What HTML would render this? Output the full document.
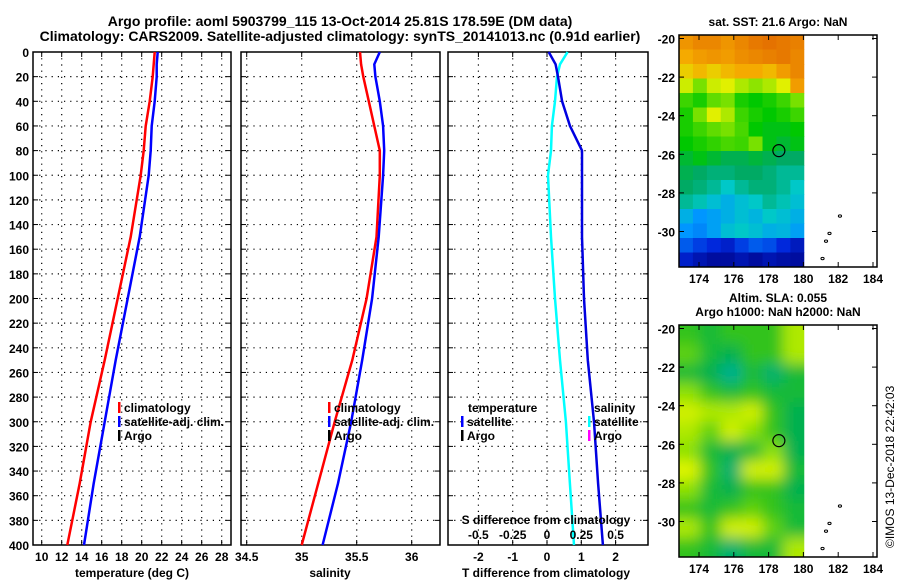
<!DOCTYPE html>
<html><head><meta charset="utf-8">
<style>
html,body{margin:0;padding:0;background:#fff;}
svg{display:block;font-family:"Liberation Sans",sans-serif;font-weight:bold;}
text{font-size:12px;fill:#000;}
</style></head>
<body>
<svg id="c" width="900" height="580" viewBox="0 0 900 580" xmlns="http://www.w3.org/2000/svg">
<text x="340" y="26" text-anchor="middle" style="font-size:14px">Argo profile: aoml 5903799_115 13-Oct-2014 25.81S 178.59E (DM data)</text>
<text x="340" y="41" text-anchor="middle" style="font-size:14px">Climatology: CARS2009. Satellite-adjusted climatology: synTS_20141013.nc (0.91d earlier)</text>
<text x="778" y="26" text-anchor="middle">sat. SST: 21.6 Argo: NaN</text>
<text x="778" y="302" text-anchor="middle">Altim. SLA: 0.055</text>
<text x="778" y="316" text-anchor="middle">Argo h1000: NaN h2000: NaN</text>
<text transform="translate(894,548) rotate(-90)" style="font-weight:normal">©IMOS 13-Dec-2018 22:42:03</text>
<g id="g"></g>
</svg>
<script>
// ---- data ----
const depths = [0,10,20,40,60,80,100,150,200,250,300,350,400];
const tempClim = [21.3,21.2,21.1,20.8,20.4,20.2,19.9,18.9,17.6,16.3,14.9,13.8,12.56];
const tempSat  = [21.6,21.5,21.5,21.3,21.0,20.9,20.7,19.8,18.6,17.4,16.3,15.2,14.23];
const salClim = [35.53,35.54,35.56,35.61,35.66,35.71,35.71,35.68,35.59,35.46,35.3,35.15,35.0];
const salSat  = [35.71,35.66,35.67,35.71,35.74,35.75,35.74,35.70,35.64,35.55,35.45,35.33,35.19];
const tDiff = [0.05,0.25,0.32,0.44,0.67,1.02,1.02,1.02,1.08,1.19,1.37,1.49,1.63];
const sDiff = [0.15,0.095,0.073,0.058,0.036,0.029,0.007,0.029,0.058,0.095,0.138,0.167,0.197];
const depthTicks = [0,20,40,60,80,100,120,140,160,180,200,220,240,260,280,300,320,340,360,380,400];
const tempTicks = [10,12,14,16,18,20,22,24,26,28];
const salTicks = [34.5,35,35.5,36];
const salTickLabels = ['34.5','35','35.5','36'];
const tdTicks = [-2,-1,0,1,2];
const sdTicks = [-0.5,-0.25,0,0.25,0.5];
const sdTickLabels = ['-0.5','-0.25','0','0.25','0.5'];
const lonTicks = [174,176,178,180,182,184];
const latTicks = [-20,-22,-24,-26,-28,-30];
const sstGrid = [
[.93,.95,.95,.93,.95,.97,.98,.97,.96],
[.90,.92,.93,.92,.94,.95,.96,.97,.95],
[.85,.88,.85,.88,.90,.90,.88,.92,.95],
[.78,.70,.78,.80,.75,.72,.75,.80,.92],
[.65,.62,.68,.70,.62,.60,.62,.65,.70],
[.62,.70,.80,.75,.65,.62,.60,.62,.65],
[.62,.65,.68,.70,.66,.60,.58,.58,.60],
[.60,.62,.64,.66,.65,.70,.58,.55,.58],
[.55,.58,.55,.52,.52,.54,.52,.50,.50],
[.52,.50,.48,.48,.50,.50,.48,.45,.45],
[.50,.48,.45,.40,.45,.48,.48,.45,.40],
[.45,.42,.38,.35,.38,.40,.45,.42,.38],
[.35,.30,.32,.35,.38,.36,.40,.38,.35],
[.30,.28,.32,.38,.40,.38,.35,.36,.32],
[.22,.18,.15,.12,.18,.22,.20,.15,.10],
[.12,.08,.05,.05,.08,.05,.08,.06,.05]];
const slaGrid = [
[.6,.55,.6,.6,.6,.75],
[.65,.55,.5,.6,.6,.75],
[.55,.5,.4,.55,.45,.55],
[.7,.6,.55,.6,.55,.55],
[.8,.75,.75,.8,.6,.5],
[.75,.65,.8,.7,.6,.5],
[.7,.55,.5,.55,.7,.5],
[.85,.6,.45,.8,.8,.55],
[.7,.55,.5,.6,.6,.5],
[.6,.55,.6,.65,.6,.55],
[.75,.6,.8,.8,.65,.55],
[.6,.55,.45,.55,.55,.75]];
const islandLon = [182.1,181.5,181.3,181.1];
const islandLat = [-29.2,-30.1,-30.5,-31.4];
const floatLon = 178.59, floatLat = -25.81;

// ---- helpers ----
const NS='http://www.w3.org/2000/svg';
const G=document.getElementById('g');
function mk(tag,at,parent){const e=document.createElementNS(NS,tag);for(const k in at)e.setAttribute(k,at[k]);(parent||G).appendChild(e);return e;}
function txt(x,y,s,anchor,parent){const t=mk('text',{x:x,y:y,'text-anchor':anchor||'middle'},parent);t.textContent=s;return t;}
const Y0=52,Y1=545;
const yD=d=>Y0+(d/400)*(Y1-Y0);
function lin(d0,d1,p0,p1){return v=>p0+(v-d0)/(d1-d0)*(p1-p0);}

function panel(name,x0,x1,xs,ticks,labels,showDepth){
  const g=mk('g',{});
  
  
  ticks.forEach(t=>{mk('line',{x1:xs(t),x2:xs(t),y1:Y0,y2:Y1,stroke:'#000','stroke-width':1.2,'stroke-dasharray':'1.2 5'},g);});
  depthTicks.forEach(d=>{
    if(d>0&&d<400)mk('line',{x1:x0,x2:x1,y1:yD(d),y2:yD(d),stroke:'#000','stroke-width':1.2,'stroke-dasharray':'1.2 5'},g);
    mk('line',{x1:x0,x2:x0+5,y1:yD(d),y2:yD(d),stroke:'#000'},g);
    mk('line',{x1:x1-5,x2:x1,y1:yD(d),y2:yD(d),stroke:'#000'},g);
    if(showDepth){const t=txt(x0-4,yD(d)+5,String(d),'end',g);}
  });
  ticks.forEach((t,i)=>{
    mk('line',{x1:xs(t),x2:xs(t),y1:Y1-5,y2:Y1,stroke:'#000'},g);
    mk('line',{x1:xs(t),x2:xs(t),y1:Y0,y2:Y0+5,stroke:'#000'},g);
    if(labels){const l=txt(xs(t),561,labels[i],'middle',g);}
  });
  mk('rect',{x:x0,y:Y0,width:x1-x0,height:Y1-Y0,fill:'none',stroke:'#000','stroke-width':1.5},g);
  return g;
}
function series(g,name,vals,xs,color,w){
  const p=mk('polyline',{points:vals.map((v,i)=>xs(v).toFixed(1)+','+yD(depths[i]).toFixed(1)).join(' '),fill:'none',stroke:color,'stroke-width':w||2.5},g);
  
  
}
function legend(g,x,y,color,label,name){
  mk('rect',{x:x,y:y-10,width:2.5,height:11,fill:color},g);
  const t=txt(x+6,y,label,'start',g);
  
  
}

// panel 1 temperature
const xT=lin(10,28,41.7,221.7);
const p1=panel('temperature-panel',33,231,xT,tempTicks,tempTicks.map(String),true);
series(p1,'temperature-climatology-line',tempClim,xT,'#ff0000');
series(p1,'temperature-satellite-line',tempSat,xT,'#0000ff');
legend(p1,118,412,'#ff0000','climatology','legend-climatology');
legend(p1,118,426,'#0000ff','satellite-adj. clim.','legend-satellite-adj');
legend(p1,118,440,'#000','Argo','legend-argo');
txt(132,577,'temperature (deg C)','middle',p1);

// panel 2 salinity
const xS=lin(35,36,301.7,411.7);
const p2=panel('salinity-panel',241,440,xS,salTicks,salTickLabels,false);
series(p2,'salinity-climatology-line',salClim,xS,'#ff0000');
series(p2,'salinity-satellite-line',salSat,xS,'#0000ff');
legend(p2,328,412,'#ff0000','climatology','legend-climatology-sal');
legend(p2,328,426,'#0000ff','satellite-adj. clim.','legend-satellite-adj-sal');
legend(p2,328,440,'#000','Argo','legend-argo-sal');
txt(330,577,'salinity','middle',p2);

// panel 3 differences
const xTD=lin(0,1,547,581.3);
const xSD=lin(0,0.25,547,581.3);
const p3=panel('difference-panel',448,648,xTD,tdTicks,tdTicks.map(String),false);
series(p3,'salinity-diff-line',sDiff,xSD,'#00ffff');
series(p3,'temperature-diff-line',tDiff,xTD,'#0000e0');
txt(468,412,'temperature','start',p3);
legend(p3,461,426,'#0000ff','satellite','legend-t-satellite');
legend(p3,461,440,'#000','Argo','legend-t-argo');
txt(594,412,'salinity','start',p3);
legend(p3,588,426,'#00ffff','satellite','legend-s-satellite');
legend(p3,588,440,'#ff00ff','Argo','legend-s-argo');
txt(546,524,'S difference from climatology','middle',p3);
sdTicks.forEach((t,i)=>{txt(xSD(t),539,sdTickLabels[i],'middle',p3);});
txt(546,577,'T difference from climatology','middle',p3);

// colormaps
function interp(stops,v){
  v=Math.max(stops[0][0],Math.min(stops[stops.length-1][0],v));
  for(let i=1;i<stops.length;i++){if(v<=stops[i][0]){const a=stops[i-1],b=stops[i];const f=(v-a[0])/(b[0]-a[0]);
    const c=[0,1,2].map(k=>Math.round(a[1][k]+(b[1][k]-a[1][k])*f));return 'rgb('+c.join(',')+')';}}
}
const sstStops=[[0,[0,0,128]],[0.15,[0,40,220]],[0.3,[0,150,255]],[0.4,[0,200,200]],[0.5,[0,170,100]],[0.6,[0,200,0]],[0.7,[120,225,0]],[0.8,[225,240,0]],[0.9,[245,170,0]],[1,[225,100,0]]];
const slaStops=[[0.4,[0,176,144]],[0.5,[0,176,80]],[0.6,[50,195,30]],[0.7,[140,225,0]],[0.8,[210,240,0]],[0.9,[235,250,0]]];

function map(name,top,grid,stops,blur){
  const L=679,R=877,B=top+232;
  const xL=lin(174,184,699,873), yL=lin(-20,-30,top+3.5,top+196.5);
  const g=mk('g',{});
  
  
  const clipId=name+'-clip';
  const cp=mk('clipPath',{id:clipId},g);
  mk('rect',{x:L,y:top,width:xL(180.05)-L,height:B-top},cp);
  const cells=mk('g',{'clip-path':'url(#'+clipId+')'},g);
  if(blur){const f=mk('filter',{id:name+'-blur',x:'-20%',y:'-20%',width:'140%',height:'140%'},g);mk('feGaussianBlur',{stdDeviation:blur},f);}
  const inner=mk('g',blur?{filter:'url(#'+name+'-blur)'}:{},cells);
  const rows=grid.length,cols=grid[0].length;
  const cw=(xL(180.05)-L)/cols, ch=(B-top)/rows;
  grid.forEach((row,r)=>row.forEach((v,c)=>{
    const ex=blur?20:0;
    const e=mk('rect',{x:L+c*cw-(c==0?ex:0),y:top+r*ch-(r==0?ex:0),width:cw+0.5+(c==0?ex:0)+(c==cols-1?ex:0),height:ch+0.5+(r==0?ex:0)+(r==rows-1?ex:0),fill:interp(stops,v)},inner);
    
    
  }));
  const c=mk('circle',{cx:xL(floatLon),cy:yL(floatLat),r:6,fill:'none',stroke:'#000','stroke-width':1.2},g);
  
  
  islandLon.forEach((lo,i)=>{mk('ellipse',{cx:xL(lo),cy:yL(islandLat[i]),rx:1.6,ry:1.2,fill:'none',stroke:'#000','stroke-width':1},g);});
  mk('rect',{x:L,y:top,width:R-L,height:B-top,fill:'none',stroke:'#000','stroke-width':1.5},g);
  lonTicks.forEach(t=>{mk('line',{x1:xL(t),x2:xL(t),y1:top,y2:top+5,stroke:'#000'},g);mk('line',{x1:xL(t),x2:xL(t),y1:B-5,y2:B,stroke:'#000'},g);
    const l=txt(xL(t),B+16,String(t),'middle',g);});
  latTicks.forEach(t=>{mk('line',{x1:L,x2:L+5,y1:yL(t),y2:yL(t),stroke:'#000'},g);mk('line',{x1:R-5,x2:R,y1:yL(t),y2:yL(t),stroke:'#000'},g);
    const l=txt(L-4,yL(t)+5,String(t),'end',g);});
}
map('sst-map',35,sstGrid,sstStops,0);
map('sla-map',325,slaGrid,slaStops,7);
</script>
</body></html>
